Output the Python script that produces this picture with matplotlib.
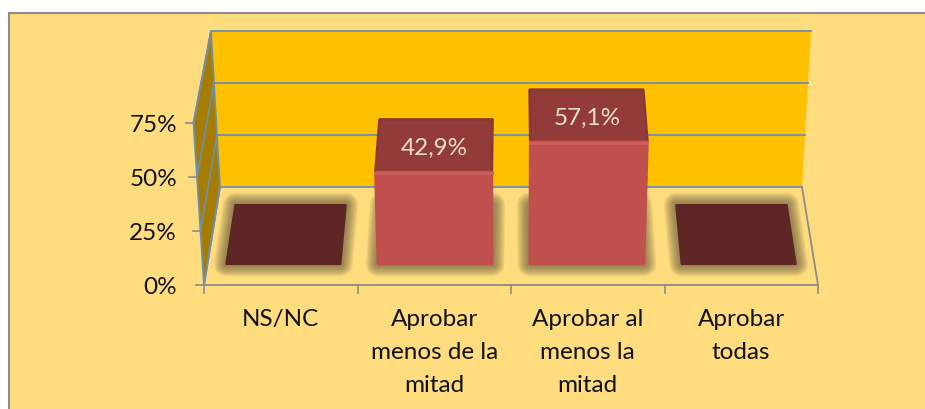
import numpy as np
import matplotlib
matplotlib.use('Agg')
import matplotlib.pyplot as plt
from matplotlib.patches import Polygon

plt.rcParams['font.family'] = ['Lato', 'DejaVu Sans']

categories = ['NS/NC', 'Aprobar\nmenos de la\nmitad', 'Aprobar al\nmenos la\nmitad', 'Aprobar\ntodas']
values = [0.0, 42.9, 57.1, 0.0]
value_labels = ['', '42,9%', '57,1%', '']
y_ticks = [0, 25, 50, 75]
y_tick_labels = ['0%', '25%', '50%', '75%']

BG = '#FFDC7E'
WALL = '#FFC000'
SIDE = '#A67C00'
GRID = '#6E8FAE'
AXIS = '#8C8C8C'
FRONT = '#C0504D'
TOP = '#933B39'
FLAT = '#5F2626'
SHADOW = '#5A4F3A'

# box of the fake 3d chart, in pixels
FRONT_L, FRONT_R, FRONT_Y = 204, 818, 286
BACK_L, BACK_R, BACK_Y = 220, 802, 188
FRONT_SCALE = 162 / 75
BACK_SCALE = 156 / 75
BAR_OFF, BAR_W = 0.031, 0.188
T_FRONT, T_BACK, T_TOP = 0.214, 0.816, 0.77


def project(u, t, v):
    # u across the floor 0-1, t front to back 0-1, v the value in percent
    left = FRONT_L + (BACK_L - FRONT_L) * t - v / 75 * (10.5 - 1.5 * t)
    right = FRONT_R + (BACK_R - FRONT_R) * t + v / 75 * (10.5 - 1.5 * t)
    base = FRONT_Y + (BACK_Y - FRONT_Y) * t
    scale = FRONT_SCALE + (BACK_SCALE - FRONT_SCALE) * t
    return left + u * (right - left), base - v * scale


fig = plt.figure(figsize=(9.25, 4.1), dpi=100, facecolor='white')
ax = fig.add_axes([0, 0, 1, 1])
ax.set_xlim(0, 925)
ax.set_ylim(410, 0)
ax.axis('off')

ax.add_patch(Polygon([(8.5, 13.5), (930, 13.5), (930, 420), (8.5, 420)], fc=BG, ec=AXIS, lw=1.5, zorder=0))

# walls
top_v = 75
ax.add_patch(Polygon([project(0, 1, 0), project(1, 1, 0), project(1, 1, top_v), project(0, 1, top_v)],
                     fc=WALL, ec='none', zorder=1))
ax.add_patch(Polygon([project(0, 0, 0), project(0, 1, 0), project(0, 1, top_v), project(0, 0, top_v)],
                     fc=SIDE, ec='none', zorder=1))

for v in y_ticks:
    pts = [project(0, 0, v), project(0, 1, v), project(1, 1, v)]
    ax.plot([p[0] for p in pts], [p[1] for p in pts], color=GRID, lw=1.3, zorder=2)
    x0, y0 = project(0, 0, v)
    ax.plot([x0 - 8, x0], [y0, y0], color=AXIS, lw=1.2, zorder=2)
    ax.text(177, y0 + 1.5, y_tick_labels[y_ticks.index(v)], ha='right', va='center',
            fontsize=17.5, color='#111111', zorder=6)

# edges of the box
p = [project(0, 0, 0), project(0, 1, 0), project(0, 1, top_v), project(0, 0, top_v)]
for k in range(4):
    a, b = p[k], p[(k + 1) % 4]
    ax.plot([a[0], b[0]], [a[1], b[1]], color=GRID, lw=1.3, zorder=2)
a, b = project(1, 0, 0), project(1, 1, 0)
ax.plot([a[0], b[0]], [a[1], b[1]], color=AXIS, lw=1.3, zorder=2)
a, b = project(0, 0, 0), project(1, 0, 0)
ax.plot([a[0], b[0]], [a[1], b[1]], color=AXIS, lw=1.3, zorder=2)

n = len(categories)
for i in range(n + 1):
    x0, y0 = project(i / n, 0, 0)
    ax.plot([x0, x0], [y0, y0 + 8], color=AXIS, lw=1.2, zorder=2)

# bars
for i, v in enumerate(values):
    u0 = i / n + BAR_OFF
    u1 = u0 + BAR_W
    foot = [project(u0, T_FRONT, 0), project(u1, T_FRONT, 0), project(u1, T_BACK, 0), project(u0, T_BACK, 0)]
    # soft shadow on the floor
    for w in np.linspace(18, 4, 12):
        ax.add_patch(Polygon(foot, fc=SHADOW, ec=SHADOW, lw=w, alpha=0.065, joinstyle='round', zorder=3))
    if v == 0:
        ax.add_patch(Polygon(foot, fc=FLAT, ec=FLAT, lw=1.5, joinstyle='round', zorder=4))
        continue
    front = [project(u0, T_FRONT, 0), project(u1, T_FRONT, 0), project(u1, T_FRONT, v), project(u0, T_FRONT, v)]
    top = [project(u0, T_FRONT, v), project(u1, T_FRONT, v), project(u1, T_TOP, v), project(u0, T_TOP, v)]
    ax.add_patch(Polygon(top, fc=TOP, ec='#8A3735', lw=2, joinstyle='round', zorder=4))
    ax.add_patch(Polygon(front, fc=FRONT, ec=FRONT, lw=2, joinstyle='round', zorder=5))
    ax.plot([front[3][0], front[2][0]], [front[3][1] + 1, front[2][1] + 1], color='#CE5F5C', lw=2, zorder=5)
    xc = (top[0][0] + top[1][0] + top[2][0] + top[3][0]) / 4
    yc = (top[0][1] + top[2][1]) / 2
    ax.text(xc - 0.5, yc + 1.5, value_labels[i], ha='center', va='center', fontsize=17.5,
            color='#E8DFCB', zorder=6)

# category labels
for i, c in enumerate(categories):
    x0, _ = project((i + 0.5) / n, 0, 0)
    for j, line in enumerate(c.split('\n')):
        ax.text(x0, 320 + j * 33, line, ha='center', va='center', fontsize=17.5, color='#111111', zorder=6)

fig.savefig('out.png', dpi=100, facecolor='white')
